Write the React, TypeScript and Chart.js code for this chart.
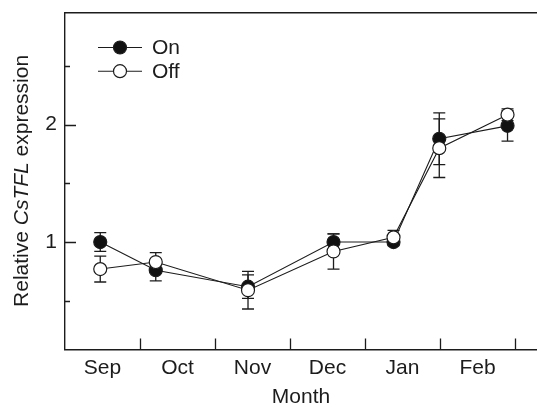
import React, { useEffect, useRef } from 'react';
import { Chart, registerables } from 'chart.js';

Chart.register(...registerables);

// ---- data ----
const monthLabels = ['Sep', 'Oct', 'Nov', 'Dec', 'Jan', 'Feb'];
const monthBoundaryTicks = [1, 2, 3, 4, 5, 6];
const monthLabelPositions = [0.5, 1.5, 2.5, 3.5, 4.5, 5.5];
const sampleMonths = [0.47, 1.21, 2.44, 3.58, 4.38, 4.99, 5.9];
const onValues = [1.0, 0.76, 0.62, 1.0, 1.0, 1.88, 1.99];
const onErrors = [0.08, 0.09, 0.1, 0.07, 0.03, 0.22, 0.13];
const offValues = [0.77, 0.83, 0.59, 0.92, 1.04, 1.8, 2.085];
const offErrors = [0.11, 0.08, 0.16, 0.15, 0.06, 0.25, 0.05];
const yMajorTicks = [1, 2];
const yMinorTicks = [0.5, 1.5, 2.5];
const seriesNames = ['On', 'Off'];

const FONT = "'Liberation Sans', Arial, Helvetica, sans-serif";
const INK = '#1c1c1c';
const FS = 21;

const zeroPad = (s: any) => {
  s.paddingLeft = 0;
  s.paddingRight = 0;
  s.paddingTop = 0;
  s.paddingBottom = 0;
};

const errorBarsPlugin = {
  id: 'errorBars',
  beforeDatasetsDraw(chart: any) {
    const { ctx } = chart;
    const xs = chart.scales.x;
    const ys = chart.scales.y;
    ctx.save();
    ctx.strokeStyle = INK;
    ctx.lineWidth = 1.3;
    chart.data.datasets.forEach((ds: any) => {
      const errs: number[] = ds.errors || [];
      ds.data.forEach((p: any, i: number) => {
        const e = errs[i];
        if (!e) return;
        const x = xs.getPixelForValue(p.x);
        const yt = ys.getPixelForValue(p.y + e);
        const yb = ys.getPixelForValue(p.y - e);
        ctx.beginPath();
        ctx.moveTo(x, yt);
        ctx.lineTo(x, yb);
        ctx.moveTo(x - 6, yt);
        ctx.lineTo(x + 6, yt);
        ctx.moveTo(x - 6, yb);
        ctx.lineTo(x + 6, yb);
        ctx.stroke();
      });
    });
    ctx.restore();
  },
};

const innerTicksPlugin = {
  id: 'innerTicks',
  afterDraw(chart: any) {
    const { ctx, chartArea } = chart;
    const xs = chart.scales.x;
    const ys = chart.scales.y;
    ctx.save();
    ctx.strokeStyle = INK;
    ctx.lineWidth = 1.3;
    ctx.beginPath();
    yMajorTicks.forEach((v) => {
      const y = Math.round(ys.getPixelForValue(v)) + 0.5;
      ctx.moveTo(chartArea.left, y);
      ctx.lineTo(chartArea.left + 11, y);
    });
    yMinorTicks.forEach((v) => {
      const y = Math.round(ys.getPixelForValue(v)) + 0.5;
      ctx.moveTo(chartArea.left, y);
      ctx.lineTo(chartArea.left + 5, y);
    });
    monthBoundaryTicks.forEach((v) => {
      const x = Math.round(xs.getPixelForValue(v)) + 0.5;
      ctx.moveTo(x, chartArea.bottom);
      ctx.lineTo(x, chartArea.bottom - 11);
    });
    ctx.stroke();
    ctx.restore();
  },
};

const legendPlugin = {
  id: 'customLegend',
  afterDraw(chart: any) {
    const { ctx } = chart;
    ctx.save();
    chart.data.datasets.forEach((ds: any, i: number) => {
      const y = 47.5 + i * 23.7;
      ctx.strokeStyle = INK;
      ctx.lineWidth = 1.1;
      ctx.beginPath();
      ctx.moveTo(98, y);
      ctx.lineTo(142, y);
      ctx.stroke();
      ctx.beginPath();
      ctx.arc(120, y, ds.pointRadius, 0, Math.PI * 2);
      ctx.fillStyle = ds.pointBackgroundColor;
      ctx.fill();
      ctx.lineWidth = ds.pointBorderWidth;
      ctx.strokeStyle = ds.pointBorderColor;
      ctx.stroke();
      ctx.fillStyle = INK;
      ctx.font = `${FS}px ${FONT}`;
      ctx.textBaseline = 'middle';
      ctx.textAlign = 'left';
      ctx.fillText(ds.label, 152, y + 1);
    });
    ctx.restore();
  },
};

const yTitlePlugin = {
  id: 'yTitle',
  afterDraw(chart: any) {
    const { ctx, chartArea } = chart;
    const parts = [
      { t: 'Relative ', italic: false },
      { t: 'CsTFL', italic: true },
      { t: ' expression', italic: false },
    ];
    ctx.save();
    const widths = parts.map((p) => {
      ctx.font = `${p.italic ? 'italic ' : ''}${FS}px ${FONT}`;
      return ctx.measureText(p.t).width;
    });
    const total = widths.reduce((a, b) => a + b, 0);
    const cy = (chartArea.top + chartArea.bottom) / 2;
    ctx.translate(27.5, cy);
    ctx.rotate(-Math.PI / 2);
    ctx.fillStyle = INK;
    ctx.textBaseline = 'alphabetic';
    ctx.textAlign = 'left';
    let x = -total / 2;
    parts.forEach((p, i) => {
      ctx.font = `${p.italic ? 'italic ' : ''}${FS}px ${FONT}`;
      ctx.fillText(p.t, x, 0);
      x += widths[i];
    });
    ctx.restore();
  },
};

export default function App() {
  const canvasRef = useRef<HTMLCanvasElement | null>(null);

  useEffect(() => {
    const canvas = canvasRef.current;
    if (!canvas) return;
    const chart = new Chart(canvas, {
      type: 'line',
      data: {
        datasets: [
          {
            label: seriesNames[0],
            data: sampleMonths.map((m, i) => ({ x: m, y: onValues[i] })),
            errors: onErrors,
            borderColor: INK,
            borderWidth: 1.1,
            pointRadius: 6.5,
            pointBackgroundColor: '#111111',
            pointBorderColor: INK,
            pointBorderWidth: 1.2,
            order: 1,
          } as any,
          {
            label: seriesNames[1],
            data: sampleMonths.map((m, i) => ({ x: m, y: offValues[i] })),
            errors: offErrors,
            borderColor: INK,
            borderWidth: 1.1,
            pointRadius: 6.5,
            pointBackgroundColor: '#ffffff',
            pointBorderColor: INK,
            pointBorderWidth: 1.2,
            order: 0,
          } as any,
        ],
      },
      options: {
        animation: false,
        responsive: false,
        layout: { padding: 0, autoPadding: false },
        plugins: { legend: { display: false }, tooltip: { enabled: false } },
        scales: {
          x: {
            type: 'linear',
            position: 'bottom',
            min: 0,
            max: 6.293,
            afterFit: (s: any) => { s.height = 58.5; zeroPad(s); },
            afterBuildTicks: (s: any) => { s.ticks = monthLabelPositions.map((v) => ({ value: v })); },
            ticks: {
              autoSkip: false,
              maxRotation: 0,
              padding: 6,
              color: INK,
              font: { family: FONT, size: FS },
              callback: (v: any) => monthLabels[Math.floor(Number(v))] ?? '',
            },
            grid: { display: false, drawTicks: false },
            border: { display: true, color: INK, width: 1.4 },
            title: {
              display: true,
              text: 'Month',
              color: INK,
              font: { family: FONT, size: FS, lineHeight: 1 },
              padding: { top: 0, bottom: 0 },
            },
          },
          xTop: {
            type: 'linear',
            position: 'top',
            min: 0,
            max: 6.293,
            afterFit: (s: any) => { s.height = 12.3; zeroPad(s); },
            ticks: { display: false },
            grid: { display: false, drawTicks: false },
            border: { display: true, color: INK, width: 1.4 },
          },
          y: {
            type: 'linear',
            position: 'left',
            min: 0.085,
            max: 2.957,
            afterFit: (s: any) => { s.width = 65; zeroPad(s); },
            afterBuildTicks: (s: any) => { s.ticks = yMajorTicks.map((v) => ({ value: v })); },
            ticks: {
              padding: 8,
              color: INK,
              font: { family: FONT, size: FS },
              callback: (v: any) => String(v),
            },
            grid: { display: false, drawTicks: false },
            border: { display: true, color: INK, width: 1.4 },
          },
        },
      } as any,
      plugins: [errorBarsPlugin, innerTicksPlugin, legendPlugin, yTitlePlugin],
    });
    return () => chart.destroy();
  }, []);

  return (
    <div style={{ position: 'absolute', left: 0, top: 0, width: 537, height: 408, background: '#fff' }}>
      <canvas ref={canvasRef} width={537} height={408} />
    </div>
  );
}
